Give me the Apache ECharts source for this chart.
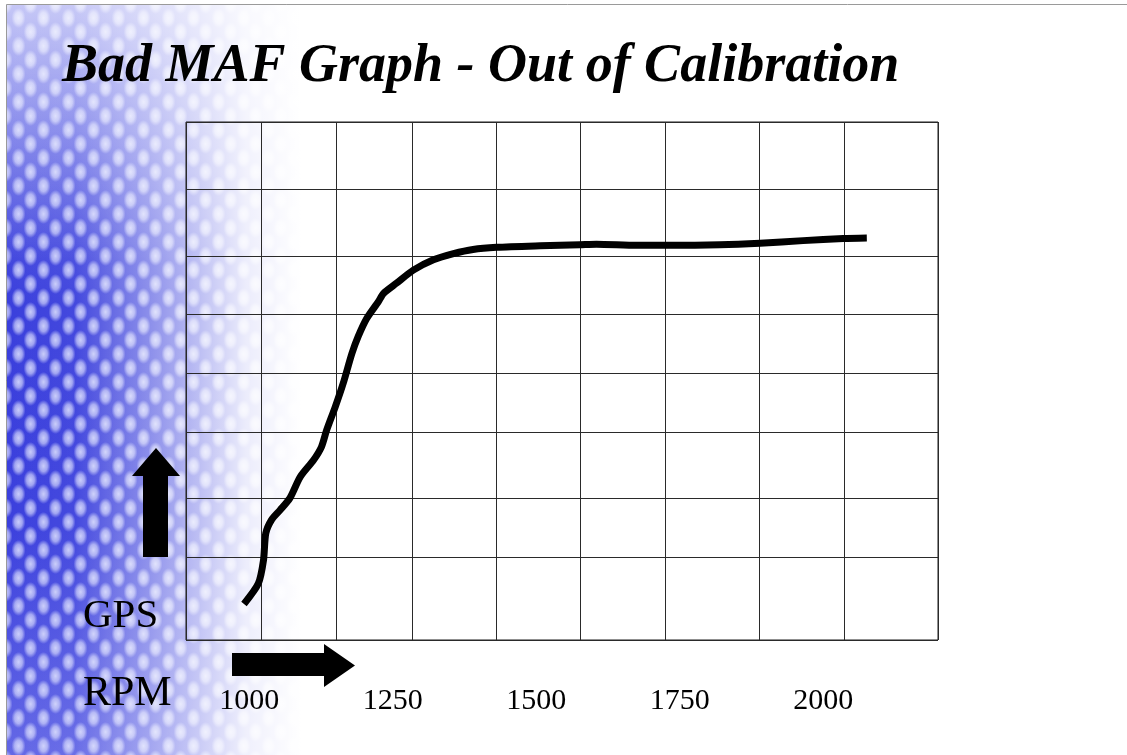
<!DOCTYPE html>
<html>
<head>
<meta charset="utf-8">
<script src="https://cdn.jsdelivr.net/npm/echarts@6/dist/echarts.min.js"></script>
<style>
  html, body { margin: 0; padding: 0; background: #ffffff; width: 1127px; height: 755px; overflow: hidden; }
  #bg {
    position: absolute; left: 6px; top: 4px; width: 310px; height: 760px;
    background:
      linear-gradient(to right, rgba(255,255,255,0) 0px, rgba(255,255,255,0.05) 70px, rgba(255,255,255,0.55) 170px, rgba(255,255,255,0.9) 240px, #ffffff 295px),
      linear-gradient(to bottom, rgba(255,255,255,0.6) 0px, rgba(255,255,255,0.25) 140px, rgba(255,255,255,0) 260px),
      radial-gradient(ellipse 7px 10px at 50% 50%, rgba(225,228,255,0.85) 0%, rgba(225,228,255,0.6) 55%, rgba(225,228,255,0) 100%) 0px 0px / 25px 28px,
      radial-gradient(ellipse 7px 10px at 50% 50%, rgba(225,228,255,0.85) 0%, rgba(225,228,255,0.6) 55%, rgba(225,228,255,0) 100%) 12px 14px / 25px 28px,
      linear-gradient(to bottom, #6f73ea 0px, #3a3fdc 300px, #3b40dd 520px, #6468e6 755px);
  }
  #chart { position: absolute; left: 0; top: 0; width: 1127px; height: 755px; }
</style>
</head>
<body>
<div id="bg"></div>
<div id="chart"></div>
<script>
// ---- data ----
const titleText = 'Bad MAF Graph - Out of Calibration';
const yAxisName = 'GPS';
const xAxisName = 'RPM';
const rpmTickLabels = [1000, 1250, 1500, 1750, 2000];
// vertical grid line positions (RPM units) as drawn in the slide
const rpmGridLines = [890, 1021, 1151, 1284, 1430, 1576, 1724, 1888, 2036, 2200];
// horizontal grid line positions (GPS, arbitrary 0-100 units)
const gpsGridLines = [0, 16.0, 27.4, 40.2, 51.5, 62.9, 74.1, 87.1, 100];
// the MAF curve
const curveRpm = [991, 1016, 1025, 1029, 1039, 1054, 1071, 1089, 1112, 1126, 1135, 1150, 1164, 1179, 1190, 1205, 1225, 1234, 1257, 1286, 1321, 1356, 1390, 1431, 1507, 1576, 1605, 1675, 1733, 1820, 1890, 1965, 2035, 2076];
const curveGps = [6.95, 10.9, 15.4, 20.6, 23.2, 25.1, 27.4, 31.5, 34.7, 37.3, 40.5, 45.0, 49.6, 55.3, 58.6, 62.1, 65.3, 66.9, 68.9, 71.4, 73.4, 74.6, 75.4, 75.8, 76.1, 76.3, 76.4, 76.2, 76.2, 76.3, 76.6, 77.1, 77.5, 77.6];

const serif = "'Liberation Serif', 'Times New Roman', serif";
const chart = echarts.init(document.getElementById('chart'), null, { renderer: 'canvas' });
const curveData = curveRpm.map((r, i) => [r, curveGps[i]]);

chart.setOption({
  animation: false,
  backgroundColor: 'transparent',
  title: {
    text: titleText,
    left: 57,
    top: 35,
    textStyle: { fontFamily: serif, fontSize: 54, fontStyle: 'italic', fontWeight: 'bold', color: '#000' }
  },
  grid: {
    left: 186, top: 122, width: 752, height: 518,
    show: true, borderColor: '#1e1e1e', borderWidth: 1, backgroundColor: 'transparent',
    containLabel: false, outerBoundsMode: 'none'
  },
  xAxis: {
    type: 'value',
    min: rpmGridLines[0], max: rpmGridLines[rpmGridLines.length - 1],
    axisLine: { show: false },
    axisTick: { show: false, customValues: rpmGridLines },
    splitLine: { show: true, lineStyle: { color: '#2a2a2a', width: 1 } },
    axisLabel: {
      customValues: rpmTickLabels,
      formatter: v => String(v),
      margin: 46,
      fontFamily: serif, fontSize: 30, color: '#000'
    }
  },
  yAxis: {
    type: 'value',
    min: gpsGridLines[0], max: gpsGridLines[gpsGridLines.length - 1],
    axisLine: { show: false },
    axisTick: { show: false, customValues: gpsGridLines },
    splitLine: { show: true, lineStyle: { color: '#2a2a2a', width: 1 } },
    axisLabel: { show: false }
  },
  series: [{
    type: 'line',
    data: curveData,
    showSymbol: false,
    smooth: 0.25,
    lineStyle: { color: '#000', width: 7, cap: 'butt', join: 'round' },
    z: 5
  }],
  graphic: [
    { type: 'rect', shape: { x: 6.5, y: 4.5, width: 1200, height: 800 }, style: { fill: 'none', stroke: '#9a9a9a', lineWidth: 1 }, silent: true },
    { type: 'polygon', shape: { points: [[156, 448], [180, 476], [168, 476], [168, 557], [143, 557], [143, 476], [132, 476]] }, style: { fill: '#000' } },
    { type: 'polygon', shape: { points: [[232, 653], [324, 653], [324, 644], [355, 665.5], [324, 687], [324, 676], [232, 676]] }, style: { fill: '#000' } },
    { type: 'text', x: 83, y: 596, style: { text: yAxisName, font: "41px 'Liberation Serif', serif", fill: '#000', textVerticalAlign: 'top' } },
    { type: 'text', x: 83, y: 673, style: { text: xAxisName, font: "42px 'Liberation Serif', serif", fill: '#000', textVerticalAlign: 'top' } }
  ]
});
</script>
</body>
</html>
